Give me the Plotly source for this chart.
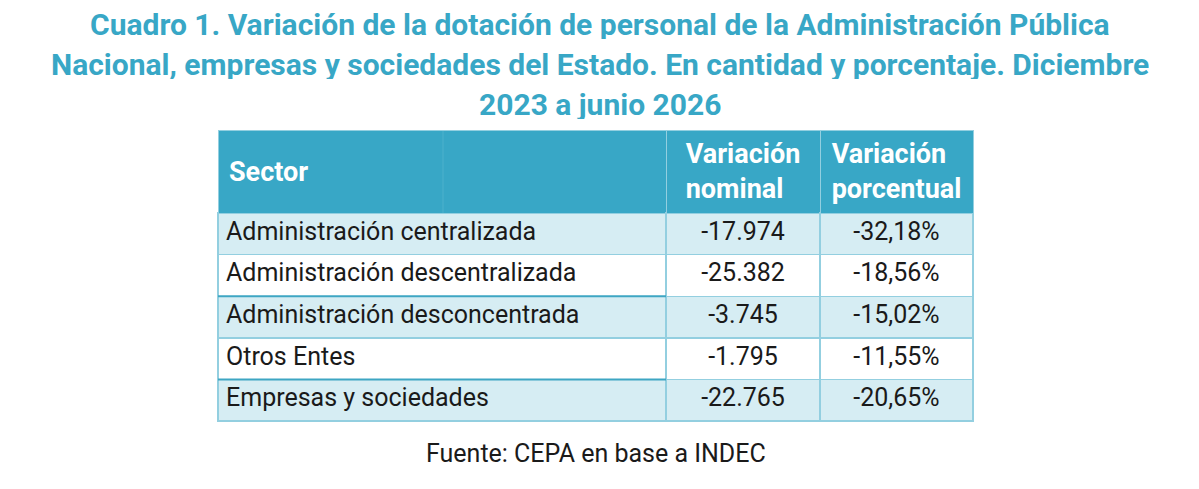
"""Cuadro 1: variación de la dotación de personal del Estado (dic 2023 - jun 2026)."""

import plotly.graph_objects as go

# datos
sectores = [
    "Administración centralizada",
    "Administración descentralizada",
    "Administración desconcentrada",
    "Otros Entes",
    "Empresas y sociedades",
]
variacion_nominal = ["-17.974", "-25.382", "-3.745", "-1.795", "-22.765"]
variacion_porcentual = ["-32,18%", "-18,56%", "-15,02%", "-11,55%", "-20,65%"]
encabezados = ["Sector", "Variación<br>nominal", "Variación<br>porcentual"]

titulo = [
    "Cuadro 1. Variación de la dotación de personal de la Administración Pública",
    "Nacional, empresas y sociedades del Estado. En cantidad y porcentaje. Diciembre",
    "2023 a junio 2026",
]
fuente = "Fuente: CEPA en base a INDEC"

W, H = 1199, 489
OFF = 8  # margen por defecto del <body> de la página
AZUL = "#38a7c6"
CELESTE = "#d6edf3"
BORDE = "#93cfe0"

# bordes de la tabla, en píxeles de la captura
T_IZQ, T_DER, T_SUP, T_INF = 218, 974, 130, 426
ALTO_ENC, ALTO_FILA = 83, 41.6
ANCHOS = [448, 154, 153]


def px_x(x):
    return (x - OFF) / W


def px_y(y):
    return 1 - (y - OFF) / H


filas_color = [CELESTE if i % 2 == 0 else "white" for i in range(len(sectores))]

# "Sector" va centrado verticalmente en el encabezado: se dibuja aparte
valores_enc = [""] + [f"<b>{h}</b>" for h in encabezados[1:]]

fig = go.Figure(
    go.Table(
        domain={"x": [px_x(T_IZQ), px_x(T_DER)], "y": [px_y(T_INF), px_y(T_SUP)]},
        columnwidth=ANCHOS,
        header={
            "values": valores_enc,
            "fill_color": AZUL,
            "line": {"color": BORDE, "width": 1},
            "align": ["left", "center", "center"],
            "font": {"family": "Roboto", "size": 27, "color": "white"},
            "height": ALTO_ENC,
        },
        cells={
            "values": [sectores, variacion_nominal, variacion_porcentual],
            "fill_color": [filas_color] * 3,
            "line": {"color": BORDE, "width": 1.5},
            "align": ["left", "center", "center"],
            "font": {"family": "Roboto", "size": 25, "color": "#1a1a1a"},
            "height": ALTO_FILA,
        },
    )
)

fig.add_annotation(
    text=f"<b>{encabezados[0]}</b>",
    x=px_x(T_IZQ + 9),
    xref="paper",
    xanchor="left",
    y=px_y(T_SUP + ALTO_ENC / 2),
    yref="paper",
    yanchor="middle",
    showarrow=False,
    font={"family": "Roboto", "size": 27, "color": "white"},
)

# línea tenue dentro del encabezado (celda combinada del original)
fig.add_shape(
    type="line",
    xref="paper",
    yref="paper",
    x0=px_x(443),
    x1=px_x(443),
    y0=px_y(T_SUP + ALTO_ENC),
    y1=px_y(T_SUP + 1),
    line={"color": "#4cb1cc", "width": 1},
)

# separadores más oscuros en la columna Sector
for fila in (2, 4):
    y_sep = T_SUP + ALTO_ENC + fila * ALTO_FILA
    fig.add_shape(
        type="line",
        xref="paper",
        yref="paper",
        x0=px_x(T_IZQ),
        x1=px_x(T_IZQ + ANCHOS[0]),
        y0=px_y(y_sep),
        y1=px_y(y_sep),
        line={"color": "#3ea6c3", "width": 2},
    )

# título en tres líneas
for i, linea in enumerate(titulo):
    fig.add_annotation(
        text=f"<b>{linea}</b>",
        x=px_x(600),
        xref="paper",
        y=px_y(24 + 40 * i),
        yref="paper",
        yanchor="middle",
        height=30,
        showarrow=False,
        font={"family": "Roboto", "size": 30, "color": AZUL},
    )

fig.add_annotation(
    text=fuente,
    x=px_x(596),
    xref="paper",
    y=px_y(453),
    yref="paper",
    yanchor="middle",
    showarrow=False,
    font={"family": "Roboto", "size": 25, "color": "#1a1a1a"},
)

fig.update_layout(
    width=W,
    height=H,
    margin={"l": 0, "r": 0, "t": 0, "b": 0},
    paper_bgcolor="white",
)

fig.write_html("out.html")
